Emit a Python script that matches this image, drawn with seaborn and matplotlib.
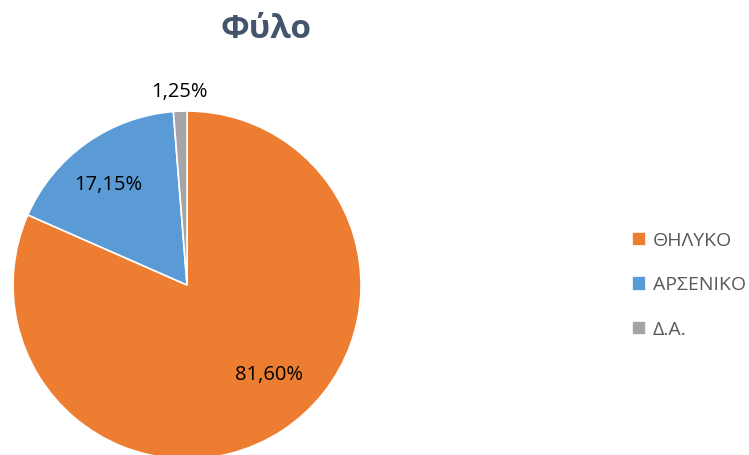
import seaborn as sns
import matplotlib.pyplot as plt
import numpy as np

labels = ["ΘΗΛΥΚΟ", "ΑΡΣΕΝΙΚΟ", "Δ.Α."]
pososta = [81.60, 17.15, 1.25]
colors = ["#ED7D31", "#5B9BD5", "#A5A5A5"]

sns.set_theme(style="white")
plt.rcParams["font.family"] = ["Open Sans", "DejaVu Sans"]

fig = plt.figure(figsize=(7.49, 4.55), dpi=100)
ax = fig.add_axes([0.0174, -0.0088, 0.4646, 0.7648])

wedges, _ = ax.pie(pososta, colors=colors, startangle=90, counterclock=False,
                   wedgeprops=dict(edgecolor="white", linewidth=1.2))
ax.set_xlim(-1, 1)
ax.set_ylim(-1, 1)
ax.set_aspect("auto")

# label placement: distance from centre and small angular nudge (deg)
dist = [0.70, 0.73, 1.11]
nudge = [9, 3, 0]
for w, v, d, n in zip(wedges, pososta, dist, nudge):
    ang = np.deg2rad((w.theta1 + w.theta2) / 2 + n)
    txt = f"{v:.2f}%".replace(".", ",")
    ax.text(d * np.cos(ang), d * np.sin(ang), txt, ha="center", va="center",
            fontsize=14.5, color="black", clip_on=False)

fig.text(0.355, 0.935, "Φύλο", ha="center", va="center", fontsize=24,
         fontweight="bold", color="#44546A")

fig.legend(wedges, labels, loc="center left", bbox_to_anchor=(0.82, 0.373),
           frameon=False, fontsize=14, labelcolor="#595959",
           handlelength=0.75, handleheight=0.75, handletextpad=0.35,
           labelspacing=1.35)

fig.savefig("out.png", dpi=100)
